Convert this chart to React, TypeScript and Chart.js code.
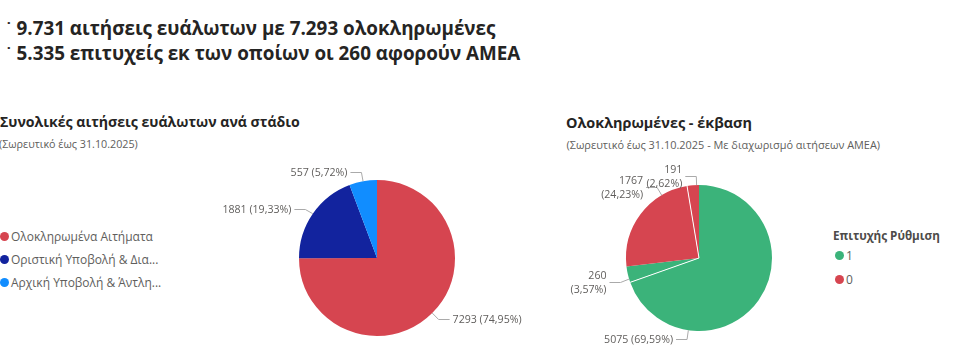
import React, { useEffect, useRef } from "react";
import { Chart, registerables } from "chart.js";

Chart.register(...registerables);

// ---------- DATA ----------
const headerLines = [
  "9.731 αιτήσεις ευάλωτων με 7.293 ολοκληρωμένες",
  "5.335 επιτυχείς εκ των οποίων οι 260 αφορούν ΑΜΕΑ",
];

const stageTitle = "Συνολικές αιτήσεις ευάλωτων ανά στάδιο";
const stageSubtitle = "(Σωρευτικό έως 31.10.2025)";
const stageLabels = [
  "Ολοκληρωμένα Αιτήματα",
  "Οριστική Υποβολή & Δια...",
  "Αρχική Υποβολή & Άντλη...",
];
const stageValues = [7293, 1881, 557];
const stageColors = ["#D64550", "#12239E", "#118DFF"];

const outcomeTitle = "Ολοκληρωμένες - έκβαση";
const outcomeSubtitle = "(Σωρευτικό έως 31.10.2025 - Με διαχωρισμό αιτήσεων ΑΜΕΑ)";
const outcomeLegendTitle = "Επιτυχής Ρύθμιση";
const outcomeSliceGroups = ["1", "1", "0", "0"];
const outcomeValues = [5075, 260, 1767, 191];
const outcomeLegendLabels = ["1", "0"];
const outcomeLegendColors = ["#3BB37A", "#D64550"];
const outcomeColors = ["#3BB37A", "#3BB37A", "#D64550", "#D64550"];

// label anchor position inside each slice (fraction of the slice angle)
const stageLabelAnchor = [0.5, 0.5, 0.5];
const stageLabelWrap = [false, false, false];
const outcomeLabelAnchor = [0.752, 0.21, 0.756, 0.8];
const outcomeLabelWrap = [false, true, true, true];

const FONT = "'Open Sans', 'Noto Sans', sans-serif";
const TITLE_COLOR = "#252423";
const GRAY = "#605E5C";

// size a font so that `text` spans `target` px
let _mctx: CanvasRenderingContext2D | null = null;
function fitSize(text: string, bold: boolean, target: number): number {
  if (!_mctx) _mctx = document.createElement("canvas").getContext("2d");
  const c = _mctx!;
  c.font = `${bold ? 700 : 400} 100px ${FONT}`;
  const w = c.measureText(text).width;
  return (100 * target) / w;
}

type LabelCfg = {
  anchors: number[];
  wraps: boolean[];
  groups?: string[];
  ext: number;
  hlen: number;
  gap: number;
  fontSize: number;
};

function makeLabelPlugin(cfg: LabelCfg) {
  return {
    id: "pbiLabels",
    afterDatasetsDraw(chart: any) {
      const ctx: CanvasRenderingContext2D = chart.ctx;
      const meta = chart.getDatasetMeta(0);
      const data = chart.data.datasets[0].data as number[];
      const total = data.reduce((a, b) => a + b, 0);
      ctx.save();
      if (cfg.groups) {
        meta.data.forEach((el: any, i: number) => {
          if (i === 0 || cfg.groups![i] !== cfg.groups![i - 1]) return;
          const p = el.getProps(["x", "y", "startAngle", "outerRadius"], true);
          ctx.strokeStyle = "#ffffff";
          ctx.lineWidth = 1;
          ctx.beginPath();
          ctx.moveTo(p.x, p.y);
          ctx.lineTo(
            p.x + p.outerRadius * Math.cos(p.startAngle),
            p.y + p.outerRadius * Math.sin(p.startAngle)
          );
          ctx.stroke();
        });
      }
      meta.data.forEach((el: any, i: number) => {
        const p = el.getProps(["x", "y", "startAngle", "endAngle", "outerRadius"], true);
        const a = p.startAngle + cfg.anchors[i] * (p.endAngle - p.startAngle);
        const c = Math.cos(a);
        const s = Math.sin(a);
        const px = p.x + p.outerRadius * c;
        const py = p.y + p.outerRadius * s;
        const ex = px + cfg.ext * c;
        const ey = Math.round(py + cfg.ext * s) + 0.5;
        const dir = c >= 0 ? 1 : -1;
        const hx = ex + dir * cfg.hlen;
        ctx.strokeStyle = "#AAAAAA";
        ctx.lineWidth = 1;
        ctx.beginPath();
        ctx.moveTo(px, py);
        ctx.lineTo(ex, ey);
        ctx.lineTo(hx, ey);
        ctx.stroke();
        const pct = "(" + ((data[i] / total) * 100).toFixed(2).replace(".", ",") + "%)";
        const lines = cfg.wraps[i] ? [String(data[i]), pct] : [`${data[i]} ${pct}`];
        ctx.fillStyle = GRAY;
        ctx.font = `${cfg.fontSize}px ${FONT}`;
        ctx.textAlign = dir > 0 ? "left" : "right";
        ctx.textBaseline = "middle";
        const lh = 14;
        const y0 = ey - ((lines.length - 1) * lh) / 2;
        lines.forEach((t, k) => ctx.fillText(t, hx + dir * cfg.gap, y0 + k * lh));
      });
      ctx.restore();
    },
  };
}

type PieProps = {
  left: number;
  top: number;
  width: number;
  height: number;
  values: number[];
  labels: string[];
  colors: string[];
  radius: number;
  cfg: LabelCfg;
};

function PieCanvas({ left, top, width, height, values, labels, colors, radius, cfg }: PieProps) {
  const ref = useRef<HTMLCanvasElement | null>(null);
  useEffect(() => {
    if (!ref.current) return;
    const chart = new Chart(ref.current, {
      type: "pie",
      data: {
        labels,
        datasets: [
          {
            data: values,
            backgroundColor: colors,
            borderWidth: 0,
            radius,
          } as any,
        ],
      },
      options: {
        animation: false,
        responsive: false,
        maintainAspectRatio: false,
        layout: { padding: 0 },
        plugins: {
          legend: { display: false },
          tooltip: { enabled: false },
          title: { display: false },
        },
      },
      plugins: [makeLabelPlugin(cfg)],
    });
    return () => chart.destroy();
  }, []);
  return (
    <canvas
      ref={ref}
      width={width}
      height={height}
      style={{ position: "absolute", left, top, width, height }}
    />
  );
}

function Txt({
  x,
  cy,
  size,
  bold,
  color,
  children,
}: {
  x: number;
  cy: number;
  size: number;
  bold?: boolean;
  color: string;
  children: React.ReactNode;
}) {
  const L = Math.round(size * 1.4);
  return (
    <div
      style={{
        position: "absolute",
        left: x,
        top: cy - L / 2,
        fontFamily: FONT,
        fontSize: size,
        fontWeight: bold ? 700 : 400,
        color,
        lineHeight: `${L}px`,
        whiteSpace: "nowrap",
      }}
    >
      {children}
    </div>
  );
}

function Dot({ cx, cy, color }: { cx: number; cy: number; color: string }) {
  return (
    <div
      style={{
        position: "absolute",
        left: cx - 4.5,
        top: cy - 4.5,
        width: 9,
        height: 9,
        borderRadius: "50%",
        background: color,
      }}
    />
  );
}

export default function App() {
  const legendYs = [236, 259, 282.5];
  const outcomeLegendYs = [255, 279];
  const headerSize = (fitSize(headerLines[0], true, 476) + fitSize(headerLines[1], true, 508)) / 2;
  const stageTitleSize = fitSize(stageTitle, true, 300);
  const stageSubSize = fitSize(stageSubtitle, false, 139);
  const outTitleSize = fitSize(outcomeTitle, true, 186);
  const outSubSize = fitSize(outcomeSubtitle, false, 314);
  const legendSize = fitSize(stageLabels[0], false, 142);
  const legTitleSize = fitSize(outcomeLegendTitle, true, 107);
  const dataLabelSize = fitSize("7293 (74,95%)", false, 69);
  return (
    <div
      style={{
        position: "absolute",
        left: 0,
        top: 0,
        width: 960,
        height: 363,
        background: "#ffffff",
        overflow: "hidden",
      }}
    >
      {headerLines.map((t, i) => (
        <React.Fragment key={i}>
          <Txt x={7} cy={27 + i * 25} size={15} bold color={TITLE_COLOR}>
            ˙
          </Txt>
          <Txt x={16.5} cy={28.3 + i * 25} size={headerSize} bold color={TITLE_COLOR}>
            {t}
          </Txt>
        </React.Fragment>
      ))}

      <Txt x={0} cy={121.7} size={stageTitleSize} bold color={TITLE_COLOR}>
        {stageTitle}
      </Txt>
      <Txt x={-1} cy={143} size={stageSubSize} color={GRAY}>
        {stageSubtitle}
      </Txt>
      {stageLabels.map((t, i) => (
        <React.Fragment key={i}>
          <Dot cx={4.5} cy={legendYs[i]} color={stageColors[i]} />
          <Txt x={11} cy={legendYs[i]} size={legendSize} color={GRAY}>
            {t}
          </Txt>
        </React.Fragment>
      ))}
      <PieCanvas
        left={197}
        top={153}
        width={360}
        height={210}
        values={stageValues}
        labels={stageLabels}
        colors={stageColors}
        radius={78}
        cfg={{
          anchors: stageLabelAnchor,
          wraps: stageLabelWrap,
          ext: 9,
          hlen: 11,
          gap: 3,
          fontSize: dataLabelSize,
        }}
      />

      <Txt x={566} cy={122.7} size={outTitleSize} bold color={TITLE_COLOR}>
        {outcomeTitle}
      </Txt>
      <Txt x={566.5} cy={144} size={outSubSize} color={GRAY}>
        {outcomeSubtitle}
      </Txt>
      <PieCanvas
        left={569}
        top={153}
        width={260}
        height={210}
        values={outcomeValues}
        labels={outcomeSliceGroups}
        colors={outcomeColors}
        radius={73}
        cfg={{
          anchors: outcomeLabelAnchor,
          wraps: outcomeLabelWrap,
          groups: outcomeSliceGroups,
          ext: 9,
          hlen: 11,
          gap: 3,
          fontSize: dataLabelSize,
        }}
      />
      <Txt x={833} cy={236} size={legTitleSize} bold color="#4D4B49">
        {outcomeLegendTitle}
      </Txt>
      {outcomeLegendLabels.map((t, i) => (
        <React.Fragment key={i}>
          <Dot cx={839} cy={outcomeLegendYs[i]} color={outcomeLegendColors[i]} />
          <Txt x={846} cy={outcomeLegendYs[i]} size={legendSize} color={GRAY}>
            {t}
          </Txt>
        </React.Fragment>
      ))}
    </div>
  );
}
